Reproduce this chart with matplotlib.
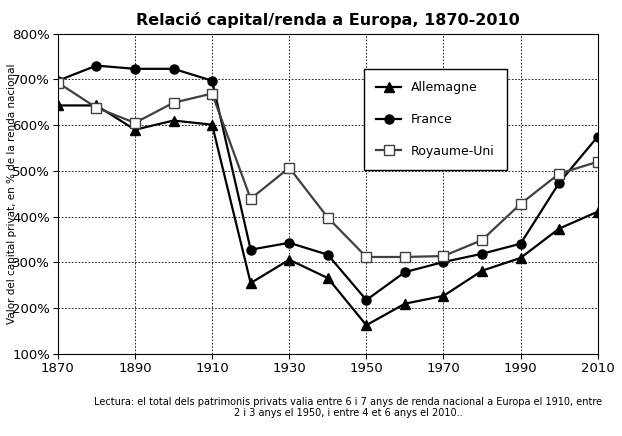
import matplotlib
matplotlib.use("Agg")
import matplotlib.pyplot as plt

years = [1870,1880,1890,1900,1910,1920,1930,1940,1950,1960,1970,1980,1990,2000,2010]
allemagne = [643,643,590,610,601,255,306,266,163,210,227,282,310,374,411]
france = [697,730,723,723,697,328,343,317,218,279,301,319,341,474,575]
ru = [693,638,605,649,669,439,507,398,312,312,314,349,428,494,520]

fig = plt.figure(figsize=(6.22,4.36), dpi=100)
ax = fig.add_axes([0.093,0.188,0.868,0.735])
ax.plot(years, allemagne, color='black', marker='^', ms=7, lw=1.6, label='Allemagne')
ax.plot(years, france, color='black', marker='o', ms=6.5, lw=1.6, label='France')
ax.plot(years, ru, color='#404040', marker='s', ms=7.5, mfc='white', mec='#404040', lw=1.6, label='Royaume-Uni')
ax.set_xlim(1870,2010); ax.set_ylim(100,800)
ax.set_xticks(range(1870,2011,20))
ax.set_yticks(range(100,801,100))
ax.set_yticklabels([f"{v}%" for v in range(100,801,100)])
ax.grid(True, color='black', ls=(0,(2,2)), lw=0.6)
ax.tick_params(labelsize=9.5, pad=2)
ax.set_title("Relació capital/renda a Europa, 1870-2010", fontsize=11.5, fontweight='bold')
ax.set_ylabel("Valor del capital privat, en % de la renda nacional", fontsize=7.5)
ax.yaxis.set_label_coords(-0.075, 0.5)
leg = ax.legend(loc='upper left', bbox_to_anchor=(0.555,0.91), fontsize=9, fancybox=False,
                edgecolor='black', framealpha=1, labelspacing=1.5, borderpad=1)
fig.text(0.56,0.045,"Lectura: el total dels patrimonis privats valia entre 6 i 7 anys de renda nacional a Europa el 1910, entre\n2 i 3 anys el 1950, i entre 4 et 6 anys el 2010..", ha='center', fontsize=7)
fig.savefig("out.png")
